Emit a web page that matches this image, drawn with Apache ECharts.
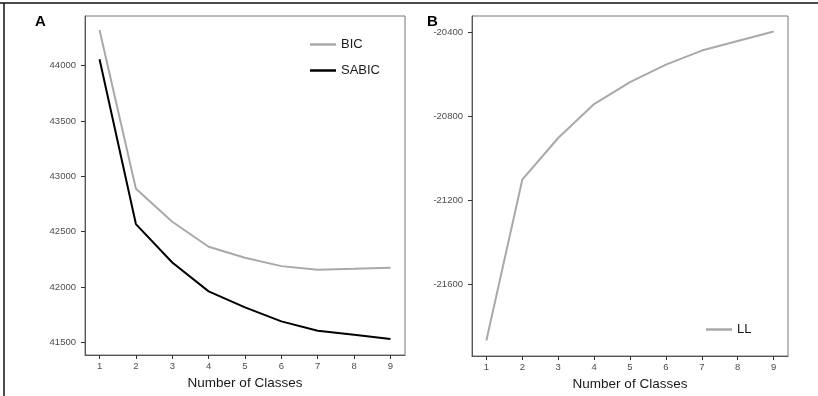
<!DOCTYPE html>
<html>
<head>
<meta charset="utf-8">
<script src="https://cdn.jsdelivr.net/npm/echarts@6/dist/echarts.min.js"></script>
<style>
html,body{margin:0;padding:0;background:#fff;}
#c{width:818px;height:396px;}
</style>
</head>
<body>
<div id="c"></div>
<script>
const classes = [1,2,3,4,5,6,7,8,9];
const bic   = [44323,42888,42590,42364,42265,42189,42156,42165,42175];
const sabic = [44058,42569,42222,41961,41816,41690,41605,41569,41530];
const ll    = [-21869,-21102,-20903,-20741,-20636,-20553,-20486,-20440,-20395];
const xTicks = [1,2,3,4,5,6,7,8,9];
const yTicksA = [41500,42000,42500,43000,43500,44000];
const yTicksB = [-21600,-21200,-20800,-20400];

const FONT = 'Liberation Sans, Arial, sans-serif';
const pair = arr => arr.map((v,i)=>[classes[i], v]);

function xAxis(gridIndex){
  return {
    type:'value', gridIndex, min:0.6, max:9.4,
    name:'Number of Classes', nameLocation:'middle', nameGap:20,
    nameTextStyle:{fontFamily:FONT, fontSize:13.5, color:'#1a1a1a'},
    axisLine:{show:true, lineStyle:{color:'#555', width:1}},
    axisTick:{show:true, inside:false, length:4, lineStyle:{color:'#333'}, customValues:xTicks},
    axisLabel:{fontFamily:FONT, fontSize:9.5, color:'#4d4d4d', margin:6, customValues:xTicks,
               formatter: v => String(v)},
    splitLine:{show:false}
  };
}
function yAxis(gridIndex, min, max, ticks){
  return {
    type:'value', gridIndex, min, max,
    axisLine:{show:true, lineStyle:{color:'#555', width:1}},
    axisTick:{show:true, inside:false, length:4, lineStyle:{color:'#333'}, customValues:ticks},
    axisLabel:{fontFamily:FONT, fontSize:9.5, color:'#4d4d4d', margin:9, customValues:ticks,
               formatter: v => String(v)},
    splitLine:{show:false}
  };
}

const chart = echarts.init(document.getElementById('c'), null, {renderer:'canvas'});
chart.setOption({
  backgroundColor:'#fff',
  animation:false,
  grid:[
    {left:85, top:16, width:320, height:339, show:true, borderColor:'#777', borderWidth:1, backgroundColor:'transparent'},
    {left:472, top:16, width:316, height:340, show:true, borderColor:'#777', borderWidth:1, backgroundColor:'transparent'}
  ],
  xAxis:[xAxis(0), xAxis(1)],
  yAxis:[yAxis(0, 41386, 44449, yTicksA), yAxis(1, -21943, -20321, yTicksB)],
  legend:[
    {data:['BIC','SABIC'], orient:'vertical', left:305, top:33, itemWidth:26, itemHeight:2.5, itemGap:13,
     icon:'rect', textStyle:{fontFamily:FONT, fontSize:13, color:'#1a1a1a'}},
    {data:['LL'], orient:'vertical', left:701, top:318, itemWidth:26, itemHeight:2.5,
     icon:'rect', textStyle:{fontFamily:FONT, fontSize:13, color:'#1a1a1a'}}
  ],
  graphic:[
    {type:'line', shape:{x1:0,y1:3,x2:818,y2:3}, style:{stroke:'#111', lineWidth:1.5}},
    {type:'line', shape:{x1:4,y1:3,x2:4,y2:396}, style:{stroke:'#111', lineWidth:1.5}},
    {type:'text', left:35, top:14, style:{text:'A', font:'bold 15px '+FONT, fill:'#000'}},
    {type:'text', left:427, top:14, style:{text:'B', font:'bold 15px '+FONT, fill:'#000'}}
  ],
  series:[
    {name:'BIC', type:'line', xAxisIndex:0, yAxisIndex:0, data:pair(bic), showSymbol:false,
     lineStyle:{color:'#a9a9a9', width:2}, itemStyle:{color:'#a9a9a9'}},
    {name:'SABIC', type:'line', xAxisIndex:0, yAxisIndex:0, data:pair(sabic), showSymbol:false,
     lineStyle:{color:'#000', width:2}, itemStyle:{color:'#000'}},
    {name:'LL', type:'line', xAxisIndex:1, yAxisIndex:1, data:pair(ll), showSymbol:false,
     lineStyle:{color:'#a9a9a9', width:2}, itemStyle:{color:'#a9a9a9'}}
  ]
});
</script>
</body>
</html>
